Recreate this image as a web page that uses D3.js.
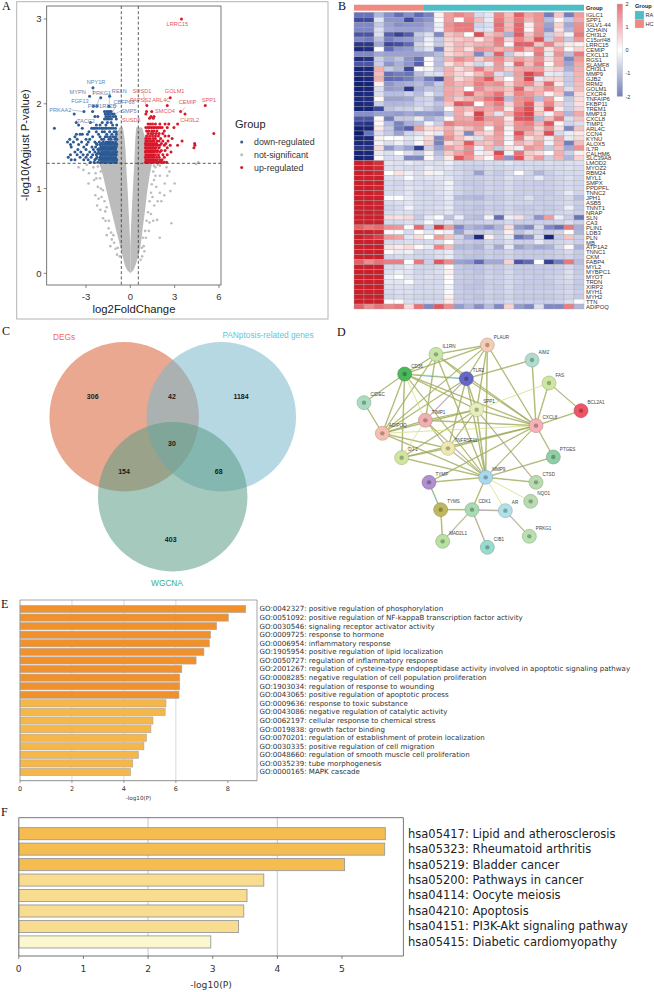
<!DOCTYPE html>
<html><head><meta charset="utf-8">
<script src="https://cdn.jsdelivr.net/npm/d3@7"></script>
<style>html,body{margin:0;background:#fff}svg{display:block}text{font-family:"Liberation Sans",Arial,sans-serif}</style>
</head><body><svg id="c" width="654" height="992" viewBox="0 0 654 992"></svg>
<script>
// ---------- A: volcano ----------
const downRows = [
[2.19,[-2.53]],[2.09,[-2.76,-1.4]],[2.07,[-2.0]],[1.97,[-2.26,-2.5,-1.45]],
[1.91,[-3.14,-2.55,-1.75,-1.6,-1.5,-1.38,-1.3]],[1.88,[-3.8,-1.7,-1.55,-1.42,-1.25,-1.1]],
[1.85,[-2.4,-2.2,-1.65,-1.5,-1.35,-1.15,-1.0]],[1.82,[-1.75,-1.6,-1.45,-1.28,-0.95]],
[1.78,[-3.66,-2.7,-1.9,-1.55,-1.3]],[1.75,[-3.5,-2.3,-2.05,-1.65,-1.2,-0.92]],
[1.71,[-5.14,-3.25,-2.62,-2.5,-2.4,-2.25,-2.1,-1.95,-1.85,-1.7,-1.6,-1.45,-1.3,-1.15,-1.0]],
[1.67,[-2.8,-2.3,-1.9,-1.75,-1.4,-1.1,-0.95]],[1.64,[-3.65,-3.4,-3.25,-2.9,-2.15,-1.6,-1.25,-0.95]],
[1.61,[-3.75,-2.55,-2.05,-1.7,-1.55,-1.35,-1.15,-1.0]],[1.58,[-4.1,-3.6,-3.0,-2.75,-1.95,-1.8,-1.45,-1.3,-1.05,-0.92]],
[1.55,[-4.25,-3.85,-3.3,-2.85,-2.4,-2.1,-1.85,-1.65,-1.5,-1.35,-1.2,-1.0]],
[1.53,[-2.3,-1.95,-1.72,-1.55,-1.4,-1.25,-1.1,-0.95]],
[1.52,[-4.05,-3.5,-2.95,-2.25,-2.05,-1.9,-1.75,-1.6,-1.45,-1.3,-1.15,-1.05,-0.92]],
[1.49,[-4.0,-3.15,-2.6,-2.35,-2.0,-1.85,-1.7,-1.55,-1.4,-1.25,-1.1,-0.95]],
[1.47,[-2.12,-1.95,-1.78,-1.62,-1.48,-1.32,-1.18,-1.02]],
[1.46,[-3.55,-3.0,-2.5,-2.2,-2.05,-1.9,-1.75,-1.6,-1.45,-1.3,-1.15,-1.0]],
[1.43,[-3.75,-3.35,-2.75,-2.4,-2.15,-1.95,-1.8,-1.65,-1.5,-1.35,-1.2,-1.05,-0.92]],
[1.41,[-2.25,-2.08,-1.92,-1.78,-1.62,-1.48,-1.32,-1.18,-1.02]],
[1.40,[-4.05,-3.6,-3.2,-2.9,-2.55,-2.3,-2.0,-1.85,-1.7,-1.55,-1.4,-1.25,-1.1,-0.95]],
[1.37,[-4.2,-3.4,-3.0,-2.65,-2.25,-2.05,-1.9,-1.75,-1.6,-1.45,-1.3,-1.15,-1.0]],
[1.35,[-2.32,-2.02,-1.88,-1.72,-1.58,-1.42,-1.28,-1.12,-0.98]],
[1.34,[-4.0,-3.75,-3.15,-2.85,-2.4,-2.1,-1.95,-1.8,-1.65,-1.5,-1.35,-1.2,-1.05,-0.92]],
[1.31,[-2.7,-2.45,-2.2,-2.0,-1.85,-1.7,-1.55,-1.4,-1.25,-1.1,-0.95]]];
const upRows = [
[3.0,[3.46]],[2.07,[2.7]],[1.98,[2.5,1.12,5.07]],[1.91,[3.4,1.45,1.1]],[1.88,[3.7,1.05]],[1.85,[1.4,1.6]],[1.83,[1.3,1.55]],
[1.76,[1.2,1.35,1.5,1.7,2.0,2.35,2.6,3.2]],
[1.72,[1.05,1.2,1.3,1.42,1.55,1.65,1.78,1.9,2.02,2.15,2.5,2.95]],
[1.68,[1.1,1.25,1.45,1.6,1.8,2.3]],[1.65,[1.2,1.4,1.55,1.75,1.95,2.2,5.65]],[1.62,[1.1,1.3,1.5,1.7,1.9,2.35,2.6]],
[1.59,[1.05,1.2,1.35,1.55,1.7,2.05,2.83]],[1.56,[1.05,1.15,1.3,1.45,1.6,1.8,1.95,2.2,2.55,3.5]],
[1.53,[1.02,1.12,1.25,1.38,1.5,1.65,1.78,2.1,2.4,4.35]],[1.51,[1.05,1.18,1.3,1.42,1.55,1.7,1.85,2.0,2.3,2.7,3.2,4.37]],
[1.48,[1.02,1.12,1.25,1.35,1.48,1.6,1.75,1.95,2.5,4.3]],[1.45,[1.05,1.18,1.3,1.42,1.55,1.68,1.85,2.1,2.35]],
[1.43,[1.02,1.12,1.25,1.38,1.5,1.62,1.8,2.0,2.75]],[1.40,[1.05,1.18,1.3,1.42,1.55,1.7,1.9,2.2,2.5]],
[1.37,[1.02,1.12,1.25,1.35,1.48,1.6,1.78,1.95,2.3]],[1.34,[1.05,1.18,1.3,1.42,1.55,1.68,1.82,2.0,2.15]],
[1.31,[1.02,1.12,1.25,1.38,1.5,1.62,1.75,1.88,2.0,2.12,2.3,2.45]]];
const greyLevels   = [0,0.04,0.1,0.24,0.31,0.4,0.55,0.75,0.95,1.15,1.3,1.31,1.45,1.6,1.72];
const greyLeftOut  = [0,-.22,-.38,-.58,-.68,-.8,-1.02,-1.3,-1.58,-1.85,-2.1,-1.0,-1.0,-1.0,-0.75];
const greyLeftIn   = [0,0,0,0,0,-.02,-.06,-.12,-.17,-.24,-.29,-.29,-.32,-.4,-.5];
const greyRightIn  = [0,0,0,0,0,.02,.05,.1,.16,.22,.27,.27,.3,.34,.4];
const greyRightOut = [0,.22,.36,.6,.68,.75,.85,1.0,1.13,1.3,1.47,1.0,1.0,1.0,0.8];
const greyPoints = [[-2.83,1.06],[-2.37,.92],[-2.03,.75],[-1.7,.73],[-1.47,.53],[-1,.29],[2.78,.59],[1.99,.42],[2.33,1.06],[2.71,.97],[3.0,1.06],[1.81,.63],
[-3.17,1.22],[-3.5,1.25],[-2.5,1.25],[-2.35,1.18],[-2.45,1.1],[-2.2,1.02],[-2.15,.88],[-1.95,.9],[-1.85,.65],[-1.68,.62],[-1.6,.45],[-1.25,.4],[-1.1,.36],[-2.8,1.18],[-2.95,1.28],[-2.25,.8],[-2.0,1.2],
[1.7,1.25],[1.85,1.28],[2.0,1.15],[1.6,1.1],[1.75,1.02],[1.5,.9],[1.62,.8],[1.4,.7],[1.55,.62],[1.25,.5],[1.05,.42],[.9,.32],[2.5,1.15],[2.45,1.25],[2.65,1.2],[2.3,.92],[2.1,.85],[1.85,.85],[2.0,1.27],[4.45,1.29],[4.6,1.31],[2.0,.95],[1.3,.6],[-1.35,.32],[-.9,.22],[.8,.2],[.95,.26],
[-2.2,1.26],[-2.3,1.12],[-2.05,1.12],[-2.0,1.0],[-1.85,.98],[-1.75,.85],[-1.6,.78],[-1.45,.62],[-1.3,.48],[-1.15,.45],[-.85,.3],[-.72,.2],
[1.6,1.27],[1.55,1.2],[1.45,1.05],[1.4,.95],[1.3,.85],[1.2,.72],[1.1,.62],[1.0,.5],[.85,.42],[.78,.3],[.7,.16],[1.7,1.15]];
const geneLabels = [["NPY1R",288,246,"d"],["MYPN",233,275,"d"],["PRKG1",305,278,"d"],["RELN",358,272,"d"],["FGF13",240,304,"d"],["PPP1R12B",306,319,"d"],["CBFP68",372,305,"d"],["SMP5",387,333,"d"],["PRKAA2",181,330,"d"],["TACC2",258,362,"d"],
["LRRC15",532,73,"u"],["SUSD1",426,272,"u"],["GOLM1",524,273,"u"],["PAPSS2",422,300,"u"],["ARL4C",484,300,"u"],["CEMIP",563,307,"u"],["SPP1",627,300,"u"],["SMCO4",495,334,"u"],["SUSD6",394,360,"u"],["CHI3L2",569,359,"u"]];
const geneLinks = [[215,330,250,335,"d"],[282,283,278,265,"d"],[300,290,290,318,"d"],[328,280,328,315,"d"],[350,315,335,340,"d"],[362,333,340,345,"d"],[230,360,228,368,"d"],[430,280,438,318,"u"],[555,322,540,340,"u"]];
const groupNames = ["down-regulated","not-significant","up-regulated"];
const yTicksA = [0,1,2,3], xTicksA = [-3,0,3,6];

// ---------- B: heatmap ----------
const heatGenes = ["IGLC1","SPP1","IGLV1-44","JCHAIN","CHI3L2","C15orf48","LRRC15","CEMIP","CXCL13","RGS1","SLAMF8","CHI3L1","MMP9","GJB2","RRM2","GOLM1","CXCR4","TNFAIP6","FKBP11","TREM1","MMP13","CXCL8","TIMP1","ARL4C","CCN4","KYNU","ALOX5","IL7R","CALHM6","SLC39A8","LMOD2","MYOZ2","RBM24","MYL1","SMPX","PPDPFL","TNNC2","JPH1","ASB5","TNNT1","NRAP","SLN","CA3","PLIN1","LDB3","PLN","MB","ATP1A2","TNNC1","CKM","FABP4","MYL2","MYBPC1","MYOT","TRDN","XIRP2","MYH1","MYH2","TTN","ADIPOQ"];
const heatGroups = ["HC","HC","HC","HC","HC","HC","HC","RA","RA","RA","RA","RA","RA","RA","RA","RA","RA","RA","RA","RA","RA","RA","RA"];
const heatValues = [
[-2.4,-2.4,-1.3,-1.9,-2.5,-1.9,-2.6,-2.1,0.2,1.4,1.8,1.5,-0.7,-0.5,1.8,0.9,2.4,1.3,1.6,-2.2,0.8,-2.2,1.4],
[-3.4,-3.3,-0.5,-1.8,-1.8,-3.4,-2,-1.8,-0.1,1.4,0,1.7,0.9,-0.4,2,1,2,1,1.6,-1.2,0.1,-1,1.2],
[-2,-2,-1,-1.6,-1.9,-1.8,-1.8,-1.5,-0.3,1.6,2,2,-0.8,-0.6,2.2,0.9,2.3,0.2,1.5,-1.6,0.6,-1.5,1.6],
[-2,-2,-0.6,-1.5,-1.6,-1.6,-1.6,-1.4,-0.3,1.5,1.9,2,-0.6,-0.5,2,1,2.3,0.1,1.6,-1.8,0.4,-1.3,1.7],
[-3,-3,-0.6,-2.8,-3.6,-2.8,-1,-0.6,-2,0.8,1.1,0,3,0.8,1.2,-1.4,2.5,0.8,1.7,-0.9,0.7,-0.2,2],
[-2,-2.2,-1.1,-2.2,-1.8,-1.7,-1.2,-0.3,-1,0.6,0.7,0.9,0.3,1,1.9,0.6,1.8,1,2.8,-0.9,1.3,-1,1.5],
[-4,-4,-1.5,-3.5,-3.2,-2.6,-0.8,-0.2,-1,0.5,1,0.8,1.1,1.1,1.8,0.1,2.4,2.4,0.8,1.8,0.7,0.3,0.2],
[-4.6,-4.4,0,-2.6,-1.8,-1.7,-1,-0.5,-2.2,0.5,1,0.4,1.6,1.4,1,1.2,2,1,1.8,0.4,1.2,0.1,0.6],
[-2,-2,-1.5,-1.6,-1.6,-1.6,-1.6,-1.5,-1.2,0.5,0.8,1,-2,-1,2.4,-1,0.4,-0.1,2,-0.4,1.6,-1.2,2],
[-4.4,-4.2,-0.9,-1.4,-1.1,-1.8,-2.5,0.1,-1.1,1,1.7,1.3,0.7,1.3,1.7,0.9,1.4,1,1.6,0.5,1.2,-2,1.5],
[-3,-3,-0.9,-1.8,-1.4,-1.8,-2.8,0,-1.2,0.4,1,0.5,-0.8,-0.4,1.5,-0.3,2.3,0.9,1.9,0.1,1.3,-1.6,1.2],
[-4.7,-4.6,1.1,-1,-1.3,-3.5,0.1,-0.2,-1,1.1,0.5,0.9,1.9,0.9,1.4,0.7,1.2,1.3,1.4,0.5,0.7,-1.4,1.1],
[-4.4,-4.2,0.9,-2.5,-2.2,-2.4,-1.2,-0.6,-0.6,1,0.6,0.3,0.9,1.7,-0.6,-1,1.4,3.3,2.1,-0.4,-0.5,-0.9,1],
[-4.8,-4.6,1.1,-2.6,-2.5,-2.2,-1.5,-2.2,-3.2,1.4,0.5,0.9,1.7,2.5,0.8,0,1.3,3.2,-0.4,0.6,0.6,-1,1],
[-4.8,-4.7,0.2,-1.8,-1.5,-1.4,-1.2,-1.6,-1,1.4,1,1.1,1.9,1.5,1.7,0.6,1.4,1.7,0.7,2.2,0.3,-1,0.9],
[-4.8,-4.7,-0.6,-1.7,-1.6,-4,-1.4,-1.1,-1.1,1.2,1,0,1.7,1.1,1.2,0.8,2.3,0.8,1,1.7,1,-0.6,0.9],
[-4.6,-4.5,-0.6,-1.2,-1.2,-0.9,-1.2,-0.4,-1,1.3,1,2.4,1.1,1.5,2.1,0.7,1.8,1.5,1,0.2,0.8,-1.8,0.5],
[-4.5,-4.4,0.1,-1.6,-1.6,-1.5,-0.9,-0.8,-1.6,1.2,0.7,1.1,1.4,2,2.9,-1.2,1.6,1.8,-1.2,1.4,0.1,-1,0.5],
[-4.6,-4.4,-0.9,-1.3,-1.3,-1.2,-0.9,-0.7,-1.1,0.8,2.6,2.3,0,1.4,2,0.6,1.6,2.5,0.6,1.8,0.7,-0.8,0.4],
[-4.8,-4.7,-3.5,-1.1,-0.9,-0.9,-0.6,-1,-1.3,0.1,1.2,0.9,1.5,1.2,1.6,0.3,2,3,0.5,2.6,0.3,-0.9,0.6],
[-1.9,-1.9,-1.6,-1.6,-1.7,-1.5,-1.7,-1.7,-1.8,-1,1.2,0.4,3.5,1,-0.5,1.1,2.4,3.4,0.8,-0.2,1.2,-1.3,1.2],
[-3,-3,0.1,-2.2,-1,-1,-0.4,-1.4,-1.1,0.1,1.3,1.2,2.7,1.5,1.4,0.3,2.6,2.9,-1.2,0.9,2,-0.6,0.8],
[-4,-4.2,0.1,-1.2,-2.1,-1.4,-1.2,-0.2,-0.9,1.9,1.5,1.5,1.6,1.1,1.5,0.6,1.6,1.9,1,2.7,0.1,-0.8,-0.6],
[-4.8,-4.7,0.3,-1,-2.2,-2.8,1.3,0.5,0.6,1.1,0.5,0.9,1.4,0.1,1.7,-0.2,1.6,1.6,0.6,1.6,0.4,-2,0.8],
[-5,-2.4,-0.6,-1,-1.6,-0.8,-0.6,0.2,-0.4,1.3,0.6,-2,0.8,0.5,1.4,0.1,2.8,1.1,0.7,3,-0.7,-0.3,0.3],
[-4.7,-4.6,0.2,0,0,-0.5,-0.2,0.5,-2,1.6,0.8,0.4,-0.6,1,1.3,-0.3,1.9,0.4,0.9,-0.3,1.2,-0.4,0.5],
[-4.6,-4.5,-0.2,-0.6,-0.3,-0.7,-0.1,0.7,-2.1,0.5,0.8,2.5,0.9,0.8,1.4,0.1,1.1,0.7,1.3,-0.2,1.1,-2.2,0.9],
[-4,-4.2,0.5,-1.8,-1.2,-1.6,-3.8,-0.9,-1.6,1.4,0.9,1.7,-0.3,1,-1,0.4,-0.3,1.5,1.2,-1,0.9,-1.5,1.6],
[-4.7,-4.6,-0.4,-0.6,0,-0.6,-1,0.2,-1.2,0.7,1.3,1.8,-0.2,0.4,3.2,-0.2,2.1,0.7,0.5,0,1.1,-0.9,0.2],
[-4.8,-4.6,0.1,-0.7,-0.6,-2,-2,0.1,-0.9,0.3,2.6,1.6,0.6,0.1,2,-1.8,2.7,0.7,1.5,-0.9,1,-1.3,0.6],
[5,5,4.2,-.5,-.6,-.4,-.6,-.6,-.6,-.3,-.7,-.8,-.8,-.7,-.7,-.5,-.7,-.7,-.7,-.6,-.7,-.6,-.6],
[5,5,4.4,-.6,-.6,-.7,-.7,-.4,-.6,-.5,-.8,-.9,-.9,-.7,-.8,-.7,-.7,-.7,-.8,-.7,-.7,-.6,-.7],
[5,5,4.6,0,.4,-.3,-.6,.2,-.2,-.6,-.7,-.9,-1.6,-.8,-1,-.7,0,-.8,-1.3,-.9,-.7,-.7,-.7],
[5,5,5,-.6,-.6,-.1,-.6,-.5,-.5,-.5,-.8,-.9,-.9,-.8,-.9,-.6,-.8,-.8,-.4,-.9,-.8,-.6,-.8],
[5,5,5,-.7,-.8,-.6,-.7,-.7,-.6,-.2,-.9,-1,-1,-.8,-.9,-.7,-.9,-.9,-1,-.9,-.8,-.7,-.8],
[5,5,4.8,-.7,-.7,-.5,-.6,-.7,-.6,-.3,-.8,-.9,-1,-.8,-.9,-.7,-.9,-.9,-.9,-.9,-.8,-.7,-.8],
[5,5,4.8,-.7,-.7,-.5,-.8,-.8,-.6,-.4,-.8,-1,-1,-.8,-.9,-.7,-.9,-.9,-.9,-1,-.8,-.4,-.8],
[5,5,5,-.1,0,-.4,-.7,-.7,-.7,-.4,-1.2,-1.2,-1.3,-1,-1,-.8,-.9,-.6,-1,-.9,-.9,-.7,-1.2],
[5,5,4.8,-.7,-.6,-.5,-.7,-.7,-.7,-.5,-.9,-.9,-1,-.8,-.9,-.7,-.8,-.8,-.9,-.9,-.8,-.7,-.9],
[5,5,5,-.8,-.7,-.2,-.7,-.7,-.6,-.4,-1,-1,-1.1,-.9,-1,-.8,-1,-1,-.9,-1,-.9,-.3,-1],
[5,5,4.8,-.7,-.6,-.6,-.8,-.7,-.7,-.5,-.9,-1,-1,-.8,-.9,-.7,-.9,-.9,-.9,-.9,-.8,-.7,-.9],
[5,5,5,.5,.4,.5,-1,-.4,0,-1.1,-.3,-1.1,-1.2,-.2,-2.5,-.3,.4,-.9,-1.8,1.4,-.3,-.9,-2.4],
[5,5,5,-.7,-.7,-.6,-.7,-.1,-.7,-.5,-.9,-.9,-.9,-.8,-.9,-.7,-.9,-.9,-.9,-.9,-.8,-.6,-.9],
[2.4,2,2.2,1.6,1.5,-.1,2.2,-.9,3.8,1.4,-2,-1.3,-1.5,-1.8,-1.3,.5,-1.7,-2,-.7,-2,-2.5,2,-1.4],
[5,5,4.6,.1,-.1,-.7,0,-.5,.1,-.3,-1.6,-.8,-1,-.8,-1,.2,-1.1,-.7,-.8,-1,-.8,0,-1.3],
[5,4.4,3.5,1.5,1.3,-.5,.5,0,1.4,.8,-.8,-1.5,-4.5,.2,-.9,-.4,-2.4,-1.9,-.6,-4.6,-1,.8,-.9],
[5,5,5,-.7,-.7,-.6,-.7,-.7,-.6,0,-.9,-1,-1.1,-.8,-.9,-.6,-.9,-.9,-.4,-.9,-.8,-.7,-.9],
[5,5,5,.4,.3,.5,.1,-.4,1.8,.9,-1.3,-1.2,-1.4,-.8,-1.5,-.4,-1.6,-1.3,-1.5,-1.4,-.8,.1,-1.4],
[5,5,5,-.1,-.4,-.3,-.8,-.7,-.6,-.4,-1,-1,-1.1,-.9,-1,-.8,-1,-1,-1,-1,-.9,-.7,-1],
[5,5,5,-.8,-.7,-.7,-.8,-.8,-.6,-.4,-1,-1.1,-1.1,-.9,-1,-.8,-1,-1,-1,-1,-.9,-.8,-1],
[2.4,1.7,2.1,1.9,1.9,0,2,-.9,2.6,1.7,-1.6,-1.7,-2.6,-1.5,-1.5,.6,-3,-2.6,0,-3.6,-2.2,2,-1.2],
[5,5,5,-.7,-.7,-.4,-.8,-.8,-.7,.1,-1,-1.1,-1.1,-.9,-1,-.8,-1,-1,-1,-1,-.9,-.7,-1],
[5,5,5,-.6,-.4,-.5,-.8,-.7,-.6,.2,-1,-1,-1.1,-.9,-1,-.7,-1,-1,-1,-1,-.9,-.6,-1],
[5,5,5,-.3,0,-.5,-.7,-.6,-.7,.1,-.9,-1,-1,-.8,-.9,-.7,-.9,-.9,-1,-.9,-.8,-.6,-.9],
[5,5,5,-.5,-.5,-.1,-.7,-.7,-.7,0,-1,-1,-1.1,-.9,-.9,-.7,-.9,-1,-1,-1,-.8,-.7,-1],
[5,5,5,-.6,-.6,-.6,-.8,-.7,-.7,-.2,-1,-1.1,-1.1,-.9,-1,-.7,-1,-1,-1,-1,-.9,-.8,-1],
[5,5,5,-.7,-.6,-.6,-.7,-.7,-.7,-.1,-.9,-1,-1,-.8,-.9,-.7,-.9,-.9,-.9,-.9,-.8,-.7,-.9],
[5,5,5,-.8,-.7,-.7,-.8,-.8,-.8,.2,-1,-1,-1.1,-.9,-1,-.8,-1,-1,-1,-1,-.9,-.8,-1],
[5,5,5,-.1,.1,-.6,-.7,-.7,-.7,.3,-.9,-1,-1,-.8,-.9,-.7,-.9,-.9,-.9,-.9,-.8,-.6,0],
[2.4,1.7,2.1,1.8,2,.5,2.1,-2,2.6,1.7,-1.7,-1.3,-1.9,-1.2,-2,.6,-1.7,-2,-.6,-2,-2,1.9,-1.3]];
const legendTicksB = [2,1,0,-1,-2];

// ---------- C: Venn ----------
const vennSets = ["DEGs","PANptosis-related genes","WGCNA"];
const vennCounts = [306,42,1184,30,154,68,403];

// ---------- D: network ----------
const netNames = ["PLAUR","IL1RN","AIM2","CD36","TLR2","FAS","CIDEC","SPP1","BCL2A1","TIMP1","CXCL8","ADIPOQ","TNFRSF11","PTGES","DJ-1","MMP9","TYMP","CTSD","NQO1","TYMS","CDK1","AR","PRKG1","MAD2L1","CIB1"];
const netX = [472,318,606,224,409,657,102,440,753,286,618,157,354,670,215,467,297,618,602,332,426,526,598,338,472];
const netY = [75,103,120,162,176,189,248,269,272,301,317,340,385,411,413,472,487,487,544,569,569,572,649,664,682];
const netFill = ["#f5cdb5","#c8e6a8","#b0dcd0","#4cb85c","#6668c8","#cde6a0","#aadcc0","#e6eebb","#ee5566","#f0b0b0","#f5b0b8","#f5c0b0","#eee8b0","#90cfa5","#d0e6a0","#a8d8f0","#b090d0","#b8dcb0","#b8dcb0","#bfb860","#a8dcb0","#b0e0e8","#b8e0b0","#b8e0a0","#98dcd0"];
const netEdges = "IL1RN-PLAUR IL1RN-TLR2 IL1RN-ADIPOQ IL1RN-TIMP1 IL1RN-MMP9 IL1RN-CXCL8 IL1RN-CD36 PLAUR-TLR2 PLAUR-SPP1 PLAUR-MMP9 PLAUR-CXCL8 PLAUR-CD36 PLAUR-ADIPOQ AIM2-TLR2 AIM2-CXCL8 FAS-CXCL8 FAS-BCL2A1 BCL2A1-CXCL8 CD36-CIDEC CD36-ADIPOQ CD36-DJ-1 CD36-SPP1 CD36-CXCL8 CD36-MMP9 CIDEC-ADIPOQ TLR2-SPP1 TLR2-CXCL8 TLR2-MMP9 TLR2-ADIPOQ TLR2-TNFRSF11 SPP1-TIMP1 SPP1-CXCL8 SPP1-MMP9 SPP1-ADIPOQ SPP1-TNFRSF11 SPP1-DJ-1 TIMP1-CXCL8 TIMP1-TNFRSF11 TIMP1-ADIPOQ ADIPOQ-TNFRSF11 ADIPOQ-MMP9 CXCL8-TNFRSF11 CXCL8-MMP9 CXCL8-PTGES CXCL8-DJ-1 TNFRSF11-MMP9 TNFRSF11-DJ-1 DJ-1-MMP9 PTGES-MMP9 MMP9-TYMP MMP9-CTSD MMP9-CDK1 TYMP-CXCL8 TYMS-CDK1 TYMS-MAD2L1".split(" ");
const netEdgesLight = "FAS-SPP1 MMP9-NQO1 MMP9-AR ADIPOQ-CXCL8 TIMP1-DJ-1 CD36-TIMP1".split(" ");
const netEdgesPurple = "TLR2-TIMP1 TIMP1-MMP9 SPP1-CTSD CDK1-MAD2L1 CDK1-AR CDK1-CIB1 AR-PRKG1".split(" ");
const netEdgesTeal = "CD36-TLR2 TYMP-TYMS".split(" ");

// ---------- E / F: enrichment ----------
const goTerms = ["GO:0042327: positive regulation of phosphorylation","GO:0051092: positive regulation of NF-kappaB transcription factor activity","GO:0030546: signaling receptor activator activity","GO:0009725: response to hormone","GO:0006954: inflammatory response","GO:1905954: positive regulation of lipid localization","GO:0050727: regulation of inflammatory response","GO:2001267: regulation of cysteine-type endopeptidase activity involved in apoptotic signaling pathway","GO:0008285: negative regulation of cell population proliferation","GO:1903034: regulation of response to wounding","GO:0043065: positive regulation of apoptotic process","GO:0009636: response to toxic substance","GO:0043086: negative regulation of catalytic activity","GO:0062197: cellular response to chemical stress","GO:0019838: growth factor binding","GO:0070201: regulation of establishment of protein localization","GO:0030335: positive regulation of cell migration","GO:0048660: regulation of smooth muscle cell proliferation","GO:0035239: tube morphogenesis","GO:0000165: MAPK cascade"];
const goValues = [8.69,8.02,7.57,7.34,7.29,7.08,6.78,6.23,6.15,6.15,6.12,5.62,5.59,5.12,5.04,4.87,4.77,4.56,4.34,4.26];
const keggTerms = ["hsa05417: Lipid and atherosclerosis","hsa05323: Rheumatoid arthritis","hsa05219: Bladder cancer","hsa05200: Pathways in cancer","hsa04114: Oocyte meiosis","hsa04210: Apoptosis","hsa04151: PI3K-Akt signaling pathway","hsa05415: Diabetic cardiomyopathy"];
const keggValues = [5.67,5.66,5.04,3.79,3.53,3.48,3.40,2.97];

const svg = d3.select("#c");
const text = (g,x,y,s,size,fill,anchor)=>g.append("text").attr("x",x).attr("y",y).text(s).attr("font-size",size).attr("fill",fill||"#222").attr("text-anchor",anchor||"start");
const serif = (x,y,s)=>text(svg,x,y,s,12,"#111").style("font-family","'Liberation Serif',serif");
[["A",2,10],["B",338,10],["C",2,335],["D",337,336],["E",1,608],["F",1,816]].forEach(d=>serif(d[1],d[2],d[0]));

// === Panel A
(function(){
 const g = svg.append("g");
 g.append("rect").attr("x",16.7).attr("y",1.7).attr("width",311.3).attr("height",317.3).attr("fill","none").attr("stroke","#b4b4b4").attr("stroke-width",1);
 const x = d3.scaleLinear().domain([-3,6]).range([86,219]);
 const y = d3.scaleLinear().domain([0,3]).range([273.3,19]);
 const greyTbl = greyLevels.map((l,i)=>({l,a:greyLeftOut[i],b:greyLeftIn[i],c:greyRightIn[i],d:greyRightOut[i]}));
 g.append("path").datum(greyTbl).attr("fill","#bcbcbc").attr("d",d3.area().y(d=>y(d.l)).x0(d=>x(d.a)).x1(d=>x(d.b)));
 g.append("path").datum(greyTbl).attr("fill","#bcbcbc").attr("d",d3.area().y(d=>y(d.l)).x0(d=>x(d.c)).x1(d=>x(d.d)));
 g.selectAll(".gp").data(greyPoints).join("circle").attr("cx",d=>x(d[0])).attr("cy",d=>y(d[1])).attr("r",1.3).attr("fill","#bcbcbc");
 const flat = r=>r.flatMap(([yy,xs])=>xs.map(v=>[v,yy]));
 g.selectAll(".dp").data(flat(downRows)).join("circle").attr("cx",d=>x(d[0])).attr("cy",d=>y(d[1])).attr("r",1.5).attr("fill","#2c5a94");
 g.selectAll(".up").data(flat(upRows)).join("circle").attr("cx",d=>x(d[0])).attr("cy",d=>y(d[1])).attr("r",1.5).attr("fill","#d8172a");
 const zx=d3.scaleLinear().domain([258,523]).range([86,174.3]), zy=d3.scaleLinear().domain([57,820]).range([19,273.3]);
 geneLinks.forEach(l=>g.append("line").attr("x1",zx(l[0])).attr("y1",zy(l[1])).attr("x2",zx(l[2])).attr("y2",zy(l[3])).attr("stroke",l[4]=="d"?"#4f78a8":"#e0505a").attr("stroke-width",.4));
 geneLabels.forEach(l=>text(g,zx(l[1]),zy(l[2])+2,l[0],5.6,l[3]=="d"?"#5f83b3":"#e2565f","middle"));
 [[121.3,121.3,6,285],[138.3,138.3,6,285],[46.7,221,163.3,163.3]].forEach(l=>g.append("line").attr("x1",l[0]).attr("x2",l[1]).attr("y1",l[2]).attr("y2",l[3]).attr("stroke","#333").attr("stroke-width",.8).attr("stroke-dasharray","3,2.2"));
 g.append("rect").attr("x",46.7).attr("y",6).attr("width",174.3).attr("height",279).attr("fill","none").attr("stroke","#555").attr("stroke-width",.8);
 yTicksA.forEach(t=>{g.append("line").attr("x1",43.7).attr("x2",46.7).attr("y1",y(t)).attr("y2",y(t)).attr("stroke","#555").attr("stroke-width",.7);text(g,41.5,y(t)+3.4,t,9.5,"#333","end");});
 xTicksA.forEach(t=>{g.append("line").attr("x1",x(t)).attr("x2",x(t)).attr("y1",285).attr("y2",288).attr("stroke","#555").attr("stroke-width",.7);text(g,x(t),300,t,9.5,"#333","middle");});
 text(g,0,0,"-log10(Agjust P-value)",11.3,"#222","middle").attr("transform","translate(29,145) rotate(-90)");
 text(g,134,313,"log2FoldChange",11.3,"#222","middle");
 text(g,235,128,"Group",11,"#222");
 const cols=["#2c5a94","#bcbcbc","#d8172a"];
 groupNames.forEach((n,i)=>{const yy=142+i*12.8;g.append("circle").attr("cx",241.7).attr("cy",yy).attr("r",1.5).attr("fill",cols[i]);text(g,254,yy+3,n,8.8,"#333");});
})();

// === Panel B
(function(){
 const g=svg.append("g");
 const cols=d3.range(23), rows=d3.range(60);
 const x=d3.scaleBand().domain(cols).range([354,584]);
 const y=d3.scaleBand().domain(rows).range([12.3,309]);
 const color=d3.scaleLinear().domain([-5,-3,-2,-1,0,1,2.5,5]).range(["#0e1c6e","#4a55a8","#7f88c5","#c5cae6","#ffffff","#f5b5b5","#e45a60","#cb1f2b"]);
 const groupColor={HC:"#ee8a82",RA:"#4dbdc6"};
 g.selectAll(".gb").data(heatGroups).join("rect").attr("x",(d,i)=>x(i)).attr("y",4.7).attr("width",x.bandwidth()).attr("height",6).attr("fill",d=>groupColor[d]);
 text(g,586,9.8,"Group",5.6,"#222").attr("font-weight","bold");
 heatValues.forEach((r,ri)=>g.selectAll(".r"+ri).data(r).join("rect").attr("x",(d,i)=>x(i)).attr("y",y(ri)).attr("width",x.bandwidth()).attr("height",y.bandwidth()).attr("fill",d=>color(d)).attr("stroke","#a8a8a8").attr("stroke-width",.35));
 heatGenes.forEach((n,i)=>text(g,586,y(i)+y.bandwidth()/2+2.3,n,5.9,"#333"));
 const b=d3.scaleLinear().domain([2,-2]).range([4,96.5]);
 const def=svg.append("defs").append("linearGradient").attr("id","hb").attr("x1",0).attr("x2",0).attr("y1",0).attr("y2",1);
 d3.range(-2,2.01,.5).reverse().forEach(v=>def.append("stop").attr("offset",(2-v)/4).attr("stop-color",v>0?d3.interpolateRgb("#fff","#e8707a")(v/2):d3.interpolateRgb("#fff","#7480ba")(-v/2)));
 g.append("rect").attr("x",617).attr("y",4).attr("width",5.7).attr("height",92.5).attr("fill","url(#hb)").attr("stroke","#c8c8c8").attr("stroke-width",.4);
 legendTicksB.forEach(t=>text(g,625.5,b(t)+2,t,5.5,"#333"));
 text(g,635,8,"Group",5.6,"#222").attr("font-weight","bold");
 [["RA",11],["HC",19.5]].forEach(d=>{g.append("rect").attr("x",635).attr("y",d[1]).attr("width",9).attr("height",8.5).attr("fill",groupColor[d[0]]).attr("stroke","#ccc").attr("stroke-width",.3);text(g,645.5,d[1]+6.3,d[0],5.6,"#333");});
})();

// === Panel C
(function(){
 const g=svg.append("g");
 const r=74.75;
 [[124.2,416.7,"#d76133"],[221.3,416.7,"#78b8cc"],[172.7,496.7,"#5b9d87"]].forEach(c=>g.append("circle").attr("cx",c[0]).attr("cy",c[1]).attr("r",r).attr("fill",c[2]).attr("fill-opacity",.55));
 const pos=[[92.7,396],[172,396],[241,396],[172,443],[124,471],[218.7,471],[170.7,539.7]];
 vennCounts.forEach((v,i)=>text(g,pos[i][0],pos[i][1]+2.5,v,7,"#1a1a1a","middle").attr("font-weight","bold"));
 text(g,64,339.5,vennSets[0],8.3,"#ee6a55","middle");
 text(g,268,338,vennSets[1],8.3,"#5cc8dc","middle");
 text(g,167,586,vennSets[2],8.3,"#2fae8f","middle");
})();

// === Panel D
(function(){
 const g=svg.append("g");
 const sx=d3.scaleLinear().domain([0,900]).range([330,630]), sy=d3.scaleLinear().domain([0,840]).range([320,600]);
 const idx=n=>netNames.indexOf(n);
 const split=e=>{const m=e.match(/^(DJ-1|[^-]+)-(.+)$/);return [idx(m[1]),idx(m[2])];};
 const draw=(list,layers)=>list.forEach(e=>{const [a,b]=split(e);
   const dx=sy(netY[b])-sy(netY[a]),dy=sx(netX[a])-sx(netX[b]),l=Math.hypot(dx,dy);
   layers.forEach(([c,w,o])=>g.append("line").attr("x1",sx(netX[a])+dx/l*o).attr("y1",sy(netY[a])+dy/l*o).attr("x2",sx(netX[b])+dx/l*o).attr("y2",sy(netY[b])+dy/l*o).attr("stroke",c).attr("stroke-width",w));});
 draw(netEdges,[["#cbd86e",.7,-.35],["#5f5f50",.45,.05],["#b8c46c",.5,.4]]);
 draw(netEdgesLight,[["#d4e07e",.8,0]]);
 draw(netEdgesPurple,[["#c79fcf",.7,-.4],["#5f5f50",.4,0],["#cbd86e",.6,.4]]);
 draw(netEdgesTeal,[["#58c0c0",.7,-.4],["#5f5f50",.4,0],["#cbd86e",.6,.4]]);
 netNames.forEach((n,i)=>{const cx=sx(netX[i]),cy=sy(netY[i]);
  g.append("circle").attr("cx",cx).attr("cy",cy).attr("r",7).attr("fill",netFill[i]).attr("stroke",d3.color(netFill[i]).darker(.9)).attr("stroke-width",.5);
  g.append("circle").attr("cx",cx).attr("cy",cy).attr("r",2.2).attr("fill",d3.color(netFill[i]).darker(1.3)).attr("fill-opacity",.75);
  text(g,cx+6.5,cy-6.5,n,4.6,"#444");});
})();

// === Panel E
(function(){
 const g=svg.append("g");
 const x=d3.scaleLinear().domain([0,8]).range([20,227.8]);
 const y=d3.scaleBand().domain(d3.range(goValues.length)).range([604.7,776.3]).paddingInner(.16).paddingOuter(.08);
 [2,4,6].forEach(t=>g.append("line").attr("x1",x(t)).attr("x2",x(t)).attr("y1",600).attr("y2",780.7).attr("stroke","#d0d0d0").attr("stroke-width",.8));
 g.selectAll(".b").data(goValues).join("rect").attr("x",x(0)).attr("y",(d,i)=>y(i)).attr("width",d=>x(d)-x(0)).attr("height",y.bandwidth()).attr("fill",(d,i)=>i<11?"#f0912d":"#f5b64a").attr("stroke","#a9a9a9").attr("stroke-width",.6);
 g.append("path").attr("d","M20,780.7V600H257V780.7").attr("fill","none").attr("stroke","#9a9a9a").attr("stroke-width",.9);
 g.append("line").attr("x1",20).attr("x2",257).attr("y1",780.7).attr("y2",780.7).attr("stroke","#444").attr("stroke-width",.6);
 [0,2,4,6,8].forEach(t=>{g.append("line").attr("x1",x(t)).attr("x2",x(t)).attr("y1",780.7).attr("y2",783).attr("stroke","#444").attr("stroke-width",.5);text(g,x(t),790.5,t,6.5,"#333","middle").style("font-family","'DejaVu Sans'");});
 text(g,138.5,800,"-log10(P)",5.6,"#333","middle").style("font-family","'DejaVu Sans'");
 goTerms.forEach((s,i)=>text(g,259.5,y(i)+y.bandwidth()/2+2.4,s,7.07,"#333").style("font-family","'DejaVu Sans'"));
})();

// === Panel F
(function(){
 const g=svg.append("g");
 const x=d3.scaleLinear().domain([0,5]).range([18.8,342]);
 const y=d3.scaleBand().domain(d3.range(keggValues.length)).range([826.1,949.5]).paddingInner(.22).paddingOuter(.1);
 [2,4].forEach(t=>g.append("line").attr("x1",x(t)).attr("x2",x(t)).attr("y1",817.7).attr("y2",956).attr("stroke","#cfcfcf").attr("stroke-width",1.2));
 const c=i=>i<3?"#f5bd50":i<7?"#f8dc8f":"#fbf8d0";
 g.selectAll(".b").data(keggValues).join("rect").attr("x",x(0)).attr("y",(d,i)=>y(i)).attr("width",d=>x(d)-x(0)).attr("height",y.bandwidth()).attr("fill",(d,i)=>c(i)).attr("stroke","#9a9a9a").attr("stroke-width",.9);
 g.append("path").attr("d","M18.8,956V817.7H403.4V956").attr("fill","none").attr("stroke","#777").attr("stroke-width",1);
 g.append("line").attr("x1",18.8).attr("x2",403.4).attr("y1",956).attr("y2",956).attr("stroke","#333").attr("stroke-width",.7);
 [0,1,2,3,4,5].forEach(t=>{g.append("line").attr("x1",x(t)).attr("x2",x(t)).attr("y1",956).attr("y2",959).attr("stroke","#333").attr("stroke-width",.6);text(g,x(t),971.5,t,9.2,"#333","middle").style("font-family","'DejaVu Sans'");});
 text(g,211,988,"-log10(P)",9.2,"#333","middle").style("font-family","'DejaVu Sans'");
 keggTerms.forEach((s,i)=>text(g,408,y(i)+y.bandwidth()/2+3.9,s,11.5,"#222").style("font-family","'DejaVu Sans'"));
})();
</script></body></html>
